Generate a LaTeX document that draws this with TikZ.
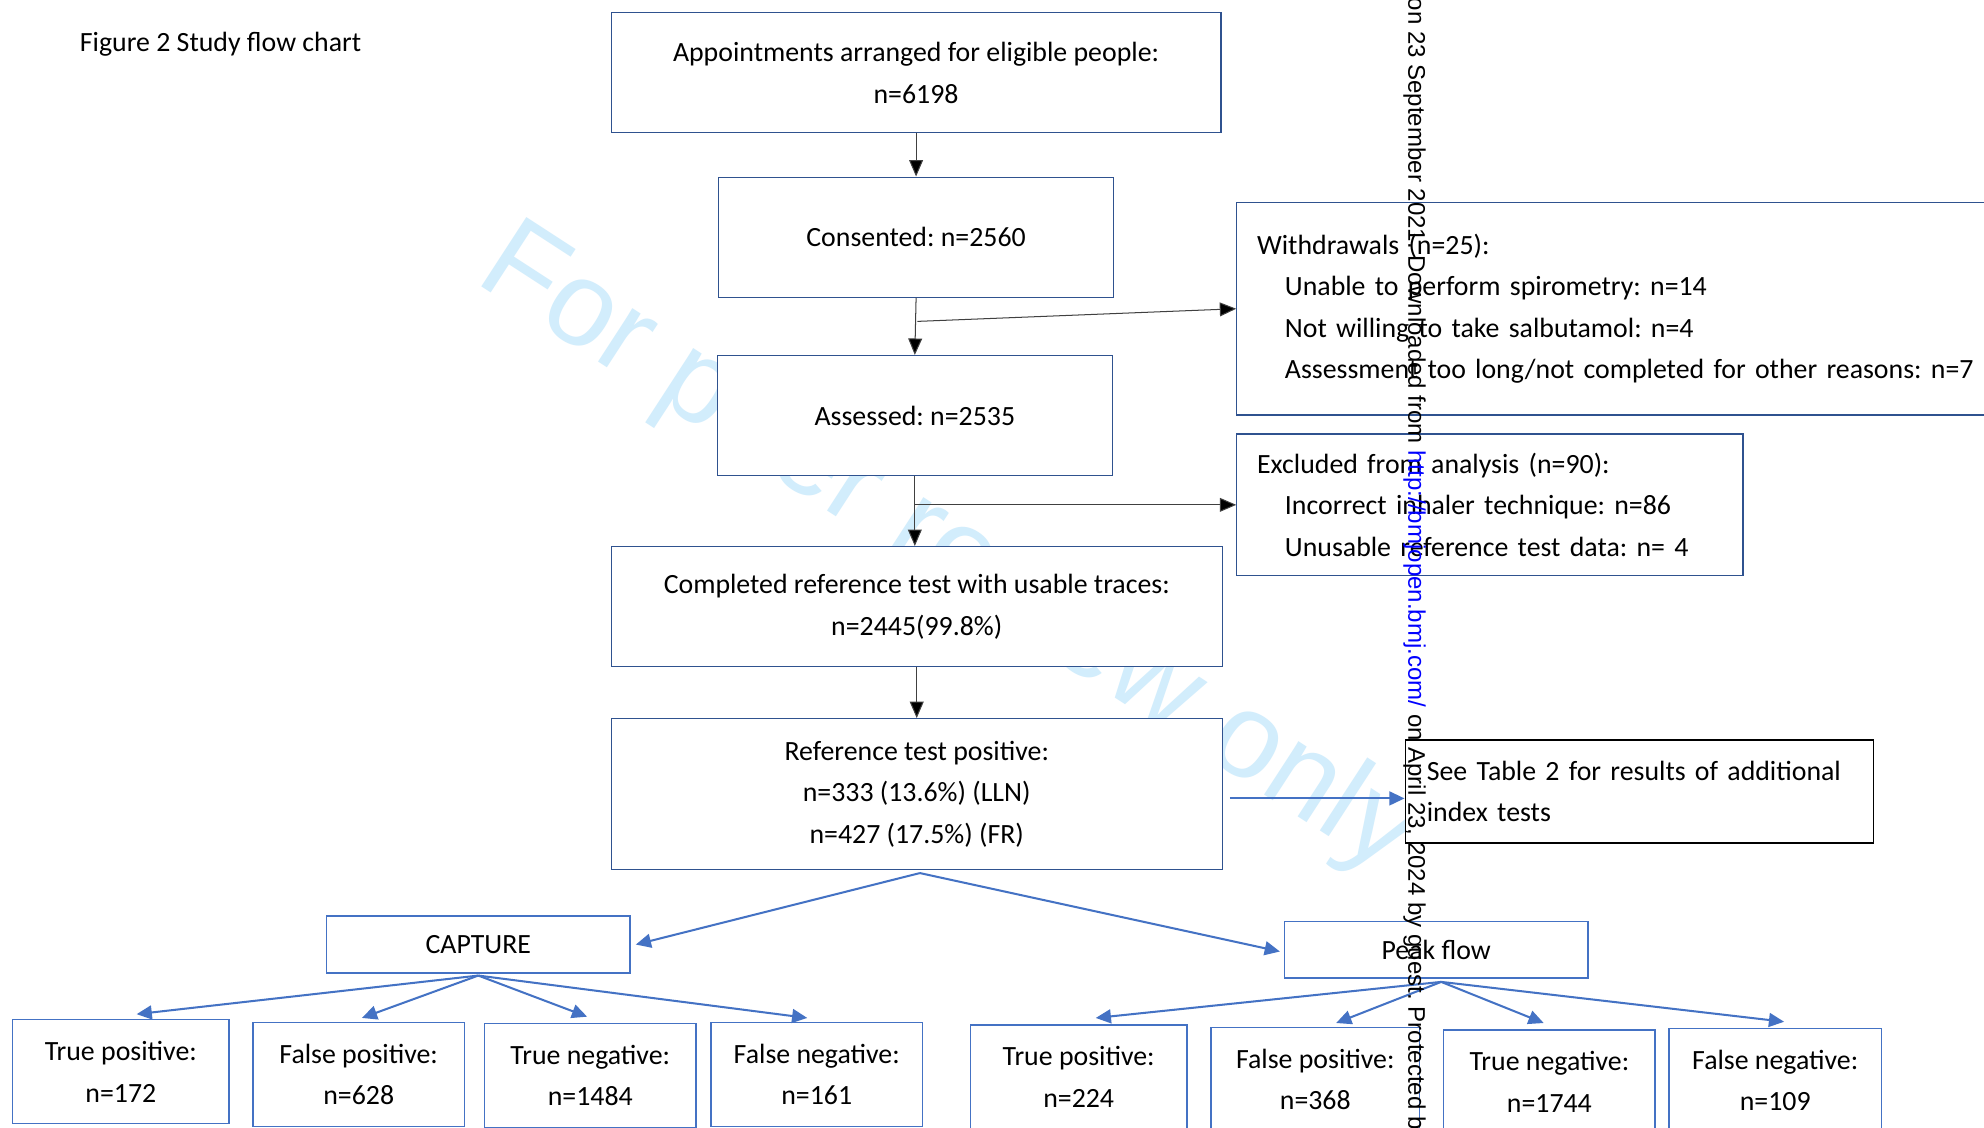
\documentclass[tikz,border=0pt]{standalone}
\usepackage{fontspec}
\setmainfont{Carlito}
\newfontfamily\wmfont{Liberation Sans}
\usetikzlibrary{arrows.meta}
\definecolor{boxblue}{RGB}{47,82,143}
\definecolor{lightbox}{RGB}{68,114,196}
\definecolor{arrblue}{RGB}{68,114,196}
\definecolor{wmcol}{RGB}{210,237,252}
\definecolor{lnkblue}{RGB}{0,0,255}
\frenchspacing
\begin{document}
\begin{tikzpicture}[x=1pt,y=-1pt,
  every node/.style={font=\fontsize{22}{32.7}\selectfont, inner sep=0pt},
  mainbox/.style={draw=boxblue, line width=1pt, fill=white, align=center},
  subbox/.style={draw=lightbox, line width=1pt, fill=white, align=center},
  leafbox/.style={subbox, minimum height=82pt},
  sidebox/.style={draw=boxblue, line width=1pt, fill=white, align=left, anchor=west, inner xsep=16pt},
  blk/.style={draw=black!75, line width=0.8pt, -{Triangle[length=13pt,width=11pt,fill=black]}},
  blu/.style={draw=arrblue, line width=1.6pt, -{Triangle[length=12pt,width=11pt]}},
]
\useasboundingbox (0,0) rectangle (1568,891);
\clip (0,0) rectangle (1568,891);
\fill[white] (0,0) rectangle (1568,891);

% watermark
\node[anchor=base west, rotate=-33, text=wmcol, font=\wmfont\fontsize{95}{95}\selectfont] (wm) at (374,222) {For peer review only};

% title
\node[anchor=west] (title) at (63,35) {Figure 2 Study flow chart};

% main column
\node[mainbox, minimum width=482pt, minimum height=95pt] (A) at (724,57.5) {Appointments arranged for eligible people:\\n=6198};
\node[mainbox, minimum width=312pt, minimum height=95pt] (B) at (724,187.5) {Consented: n=2560};
\node[mainbox, minimum width=312pt, minimum height=95pt] (C) at (723,328.5) {Assessed: n=2535};
\node[mainbox, minimum width=483pt, minimum height=95pt] (D) at (724.5,479.5) {Completed reference test with usable traces:\\n=2445(99.8\%)};
\node[mainbox, minimum width=483pt, minimum height=119pt] (E) at (724.5,627.5) {Reference test positive:\\n=333 (13.6\%) (LLN)\\n=427 (17.5\%) (FR)};

% side boxes
\node[sidebox, text width=571pt, minimum height=168pt] (W) at (977,244) {Withdrawals (n=25):\\
\hspace*{22pt}Unable to perform spirometry: n=14\\
\hspace*{22pt}Not willing to take salbutamol: n=4\\
\hspace*{22pt}Assessment too long/not completed for other reasons: n=7};
\node[sidebox, text width=368pt, minimum height=112pt] (X) at (977,399) {Excluded from analysis (n=90):\\
\hspace*{22pt}Incorrect inhaler technique: n=86\\
\hspace*{22pt}Unusable reference test data: n= 4};
\node[draw=black, line width=1.3pt, fill=white, anchor=west, inner xsep=17pt, text width=336pt, minimum height=81pt, align=left] (T) at (1110,625.5) {\makebox[336pt][s]{See Table 2 for results of additional}\\index tests};

% index tests
\node[subbox, minimum width=240pt, minimum height=45pt] (CAP) at (378,746.5) {CAPTURE};
\node[subbox, minimum width=240pt, minimum height=45pt] (PF) at (1135,750.5) {Peak flow};

% leaves
\node[leafbox, minimum width=171pt] (TP1) at (95.5,847) {True positive:\\n=172};
\node[leafbox, minimum width=167pt] (FP1) at (283.5,849) {False positive:\\n=628};
\node[leafbox, minimum width=167pt] (TN1) at (466.5,850) {True negative:\\n=1484};
\node[leafbox, minimum width=167pt] (FN1) at (645.5,849) {False negative:\\n=161};
\node[leafbox, minimum width=171pt] (TP2) at (852.5,851) {True positive:\\n=224};
\node[leafbox, minimum width=165pt] (FP2) at (1039.5,853) {False positive:\\n=368};
\node[leafbox, minimum width=167pt] (TN2) at (1224.5,855) {True negative:\\n=1744};
\node[leafbox, minimum width=168pt] (FN2) at (1403,854) {False negative:\\n=109};

% black connectors
\draw[blk] (A.south) -- (B.north);
\draw[blk] (B.south) -- (C.north);
\coordinate (b1) at (725,254);
\draw[blk] (b1) -- (W.west);
\draw[blk] (C.south) -- (C.south |- D.north);
\coordinate (c1) at (C.south |- X.west);
\draw[blk] (c1) -- (X.west);
\draw[blk] (D.south) -- (E.north);

% blue connectors
\coordinate (e1) at (972,631);
\draw[blu] (e1) -- (e1 -| T.west);
\coordinate (ef) at (727,690);
\draw[blu] (ef) -- ([xshift=4pt]CAP.east);
\draw[blu] (ef) -- ([xshift=-3pt,yshift=-1.5pt]PF.west);
\coordinate (cf) at (378,771);
\foreach \n/\dx/\dy in {TP1/12.5/4, FP1/2.5/3, TN1/-2.5/5, FN1/-7.5/3}
  \draw[blu] (cf) -- ([xshift=\dx pt,yshift=\dy pt]\n.north);
\coordinate (pf) at (1139,776);
\foreach \n/\dx/\dy in {TP2/13.5/5, FP2/16.5/3, TN2/-4.5/5, FN2/7/5}
  \draw[blu] (pf) -- ([xshift=\dx pt,yshift=\dy pt]\n.north);

% vertical download notice
\node[anchor=base west, rotate=-90, font=\wmfont\fontsize{19}{19}\selectfont] (vt) at (1113,-2) {on 23 September 2021. Downloaded from \textcolor{lnkblue}{http://bmjopen.bmj.com/} on April 23, 2024 by guest. Protected by copyright.};
\end{tikzpicture}
\end{document}
